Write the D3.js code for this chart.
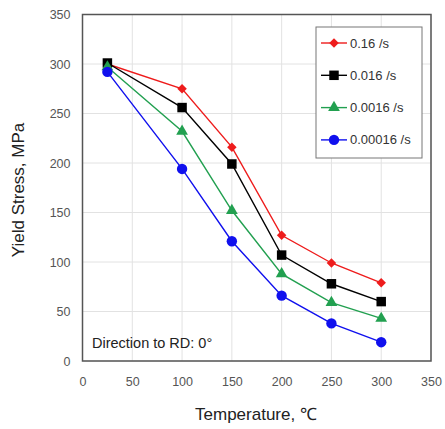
<!DOCTYPE html>
<html><head><meta charset="utf-8">
<script src="https://cdn.jsdelivr.net/npm/d3@7"></script>
<style>body{margin:0;background:#fff}svg{display:block}</style>
</head><body><svg id="c" width="445" height="429"></svg>
<script>
const temps = [25, 100, 150, 200, 250, 300];
const s016 = [300, 275, 216, 127, 99, 79];
const s0016 = [301, 256, 199, 107, 78, 60];
const s00016 = [297, 232, 152, 88, 59, 43];
const s000016 = [292, 194, 121, 66, 38, 19];
const seriesNames = ["0.16 /s", "0.016 /s", "0.0016 /s", "0.00016 /s"];
const xTicks = [0, 50, 100, 150, 200, 250, 300, 350];
const yTicks = [0, 50, 100, 150, 200, 250, 300, 350];

const series = [
  {name: seriesNames[0], vals: s016, color: "#ee1c1c", sym: d3.symbolSquare, size: 45, rot: 45},
  {name: seriesNames[1], vals: s0016, color: "#000000", sym: d3.symbolSquare, size: 90, rot: 0},
  {name: seriesNames[2], vals: s00016, color: "#22a050", sym: d3.symbolTriangle, size: 60, rot: 0},
  {name: seriesNames[3], vals: s000016, color: "#1010ee", sym: d3.symbolCircle, size: 85, rot: 0}
];

const svg = d3.select("#c");
const L = 82.5, R = 431, T = 14.5, B = 361;
const x = d3.scaleLinear().domain([0, 350]).range([L, R]);
const y = d3.scaleLinear().domain([0, 350]).range([B, T]);
const FONT = "Liberation Sans, Arial, sans-serif";

// grid
svg.append("g").selectAll("line").data(xTicks).join("line")
  .attr("x1", d => x(d)).attr("x2", d => x(d)).attr("y1", T).attr("y2", B)
  .attr("stroke", "#e2e2e2").attr("stroke-width", 1);
svg.append("g").selectAll("line").data(yTicks).join("line")
  .attr("y1", d => y(d)).attr("y2", d => y(d)).attr("x1", L).attr("x2", R)
  .attr("stroke", "#e2e2e2").attr("stroke-width", 1);

// axes labels via d3 axes
const xa = svg.append("g").attr("transform", `translate(0,${B})`)
  .call(d3.axisBottom(x).tickValues(xTicks).tickSize(0).tickPadding(16));
const ya = svg.append("g").attr("transform", `translate(${L},0)`)
  .call(d3.axisLeft(y).tickValues(yTicks).tickSize(0).tickPadding(12));
[xa, ya].forEach(a => {
  a.select(".domain").remove();
  a.selectAll("text").attr("font-family", FONT)
    .attr("font-size", 12.5).attr("fill", "#555");
});

// border
svg.append("rect").attr("x", L).attr("y", T).attr("width", R - L).attr("height", B - T)
  .attr("fill", "none").attr("stroke", "#555").attr("stroke-width", 1.5);

// lines
const line = d3.line().x((d, i) => x(temps[i])).y(d => y(d));
series.forEach(s => {
  svg.append("path").attr("d", line(s.vals)).attr("fill", "none")
    .attr("stroke", s.color).attr("stroke-width", 1.4);
});
series.forEach(s => {
  svg.append("g").selectAll("path").data(s.vals).join("path")
    .attr("transform", (d, i) => `translate(${x(temps[i])},${y(d)}) rotate(${s.rot})`)
    .attr("d", d3.symbol().type(s.sym).size(s.size)).attr("fill", s.color);
});

// legend
const lg = svg.append("g");
lg.append("rect").attr("x", 316).attr("y", 27).attr("width", 106).attr("height", 131)
  .attr("fill", "#fff").attr("stroke", "#777").attr("stroke-width", 1);
series.forEach((s, i) => {
  const yy = 43 + i * 32.3;
  lg.append("line").attr("x1", 321).attr("x2", 347).attr("y1", yy).attr("y2", yy)
    .attr("stroke", s.color).attr("stroke-width", 1.4);
  lg.append("path").attr("transform", `translate(334,${yy}) rotate(${s.rot})`)
    .attr("d", d3.symbol().type(s.sym).size(s.size)).attr("fill", s.color);
  lg.append("text").attr("x", 350).attr("y", yy + 4.5).text(s.name)
    .attr("font-family", FONT).attr("font-size", 13).attr("fill", "#333");
});

// annotations
svg.append("text").attr("x", 92).attr("y", 348).text("Direction to RD: 0°")
  .attr("font-family", FONT).attr("font-size", 14.5).attr("fill", "#222");
svg.append("text").attr("x", 256).attr("y", 420).attr("text-anchor", "middle").text("Temperature, ℃")
  .attr("font-family", FONT).attr("font-size", 17).attr("fill", "#222");
svg.append("text").attr("transform", "translate(24,190) rotate(-90)").attr("text-anchor", "middle")
  .text("Yield Stress, MPa")
  .attr("font-family", FONT).attr("font-size", 17).attr("fill", "#222");
</script></body></html>
